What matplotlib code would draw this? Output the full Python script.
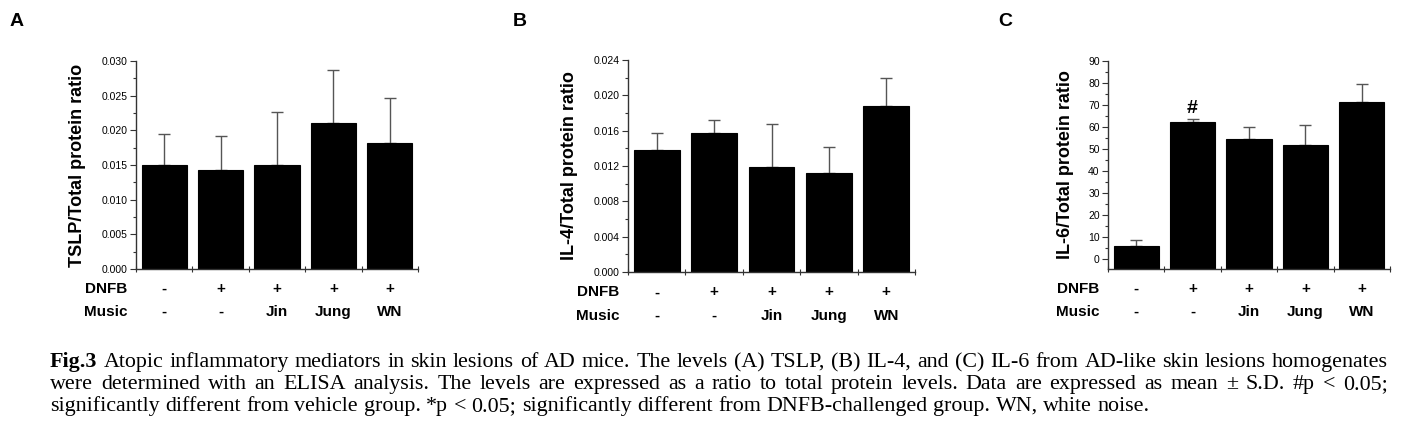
import matplotlib
matplotlib.use("Agg")
import matplotlib.pyplot as plt
from matplotlib.ticker import MultipleLocator, FormatStrFormatter
import numpy as np

# data
dnfb = ["-", "+", "+", "+", "+"]
music = ["-", "-", "Jin", "Jung", "WN"]

tslp_mean = [0.0150, 0.0143, 0.0150, 0.0211, 0.0182]
tslp_sd = [0.0044, 0.0049, 0.0077, 0.0076, 0.0064]

il4_mean = [0.0138, 0.0157, 0.0119, 0.0112, 0.0188]
il4_sd = [0.0019, 0.0015, 0.0049, 0.0029, 0.0032]

il6_mean = [5.8, 62.4, 54.5, 51.7, 71.5]
il6_sd = [3.0, 1.3, 5.3, 9.0, 8.2]

caption_lines = [
    ["Fig.3", "Atopic inflammatory mediators in skin lesions of AD mice. The levels (A) TSLP, (B) IL-4, and (C) IL-6 from AD-like skin lesions homogenates"],
    [None, "were determined with an ELISA analysis. The levels are expressed as a ratio to total protein levels. Data are expressed as mean \u00b1 S.D. #p < 0.05;"],
    [None, "significantly different from vehicle group. *p < 0.05; significantly different from DNFB-challenged group. WN, white noise."],
]

W, H = 1410, 428
fig = plt.figure(figsize=(W / 100, H / 100), dpi=100)
plt.rcParams['font.family'] = ['Liberation Sans', 'DejaVu Sans']


def px_axes(l, r, b, t):
    return fig.add_axes([l / W, 1 - b / H, (r - l) / W, (b - t) / H])


def panel(ax, means, sds, ylim, major, minor, fmt, ylabel, ybottom=0.0, labelpad=11):
    x = np.arange(len(means))
    heights = [m - ybottom for m in means]
    ax.bar(x, heights, width=0.8, bottom=ybottom, color="black",
           edgecolor="black", linewidth=0.8, zorder=2)
    ax.errorbar(x, means, yerr=[np.zeros(len(sds)), sds], fmt="none",
                ecolor="#555555", elinewidth=1.0, capsize=4, capthick=1.0, zorder=1)
    ax.set_xlim(-0.5, len(means) - 0.5)
    ax.set_ylim(*ylim)
    ax.yaxis.set_major_locator(MultipleLocator(major))
    ax.yaxis.set_minor_locator(MultipleLocator(minor))
    ax.yaxis.set_major_formatter(FormatStrFormatter(fmt))
    ax.set_xticks(np.arange(len(means) + 1) - 0.5)
    ax.set_xticklabels([])
    for s in ["top", "right"]:
        ax.spines[s].set_visible(False)
    for s in ["left", "bottom"]:
        ax.spines[s].set_color("#333333")
        ax.spines[s].set_linewidth(1.0)
    ax.tick_params(axis="y", which="major", direction="out", length=4, width=0.8,
                   labelsize=7.5, pad=2, color="#333333")
    ax.tick_params(axis="y", which="minor", direction="out", length=2.5, width=0.8,
                   color="#333333")
    ax.tick_params(axis="x", which="major", direction="inout", length=5, width=0.8,
                   color="#333333")
    ax.set_ylabel(ylabel, fontsize=13, fontweight="bold", labelpad=labelpad)
    tr = ax.get_xaxis_transform()
    for i in range(len(means)):
        ax.text(i, -0.096, dnfb[i], transform=tr, ha="center", va="center",
                fontsize=11, fontweight="bold")
        ax.text(i, -0.207, music[i], transform=tr, ha="center", va="center",
                fontsize=11, fontweight="bold")
    ax.text(-0.03, -0.096, "DNFB", transform=ax.transAxes, ha="right", va="center",
            fontsize=11, fontweight="bold")
    ax.text(-0.03, -0.207, "Music", transform=ax.transAxes, ha="right", va="center",
            fontsize=11, fontweight="bold")


axA = px_axes(136, 418, 269, 61)
panel(axA, tslp_mean, tslp_sd, (0, 0.030), 0.005, 0.0025, "%.3f", "TSLP/Total protein ratio")

axB = px_axes(628, 915, 272, 60)
panel(axB, il4_mean, il4_sd, (0, 0.024), 0.004, 0.002, "%.3f", "IL-4/Total protein ratio")

axC = px_axes(1108, 1390, 269, 61)
panel(axC, il6_mean, il6_sd, (-4.5, 90), 10, 5, "%d", "IL-6/Total protein ratio",
      ybottom=-4.5, labelpad=10)
axC.text(1, 68.5, "#", ha="center", va="center", fontsize=14, fontweight="bold")

for lab, xp in [("A", 10), ("B", 513), ("C", 998)]:
    fig.text(xp / W, 1 - 22 / H, lab, fontsize=14, fontweight="bold", ha="left", va="center")

# caption, justified like the original
cap_font = dict(family=["Liberation Serif", "DejaVu Serif"], fontsize=15.8)
left_px, right_px = 50, 1388
baselines = [367, 389, 411]
renderer = fig.canvas.get_renderer()


def word_width(word, bold=False):
    t = fig.text(0, 0, word, fontweight="bold" if bold else "normal", **cap_font)
    w = t.get_window_extent(renderer).width
    t.remove()
    return w


space_w = word_width("a b") - word_width("ab")
for li, (bold_word, rest) in enumerate(caption_lines):
    words = [(bold_word, True)] if bold_word else []
    words += [(w, False) for w in rest.split(" ")]
    widths = [word_width(w, b) for w, b in words]
    justify = li < len(caption_lines) - 1
    if justify:
        gap = (right_px - left_px - sum(widths)) / (len(words) - 1)
    else:
        gap = space_w
    xcur = left_px
    for (w, b), wd in zip(words, widths):
        fig.text(xcur / W, 1 - baselines[li] / H, w, ha="left", va="baseline",
                 fontweight="bold" if b else "normal", **cap_font)
        xcur += wd + gap

fig.savefig("out.png", dpi=100)
